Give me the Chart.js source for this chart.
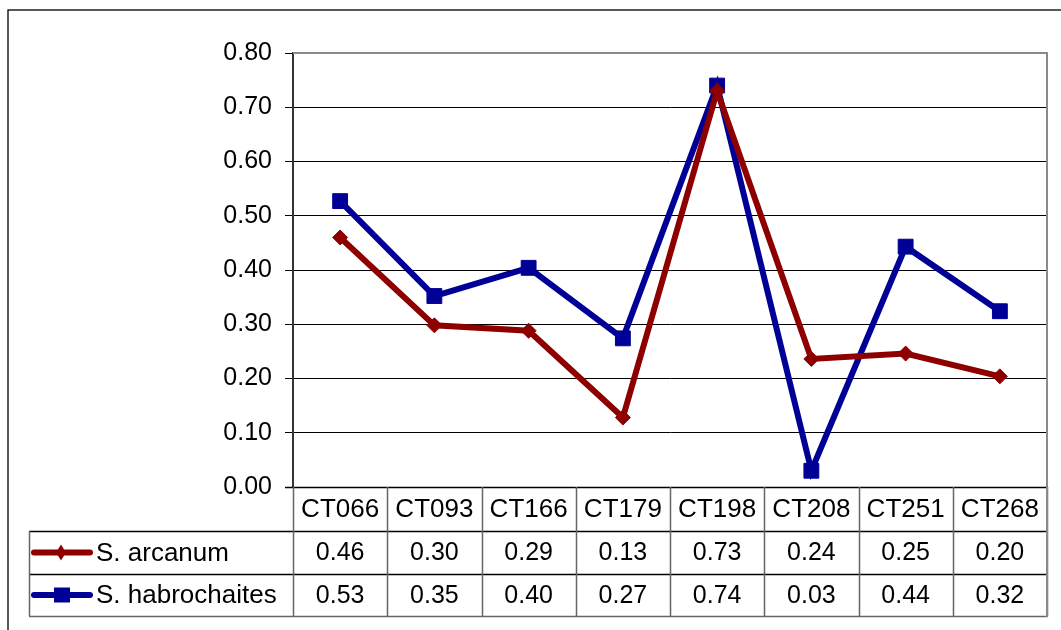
<!DOCTYPE html>
<html><head><meta charset="utf-8">
<script src="https://cdn.jsdelivr.net/npm/chart.js@4.4.1/dist/chart.umd.min.js"></script>
<style>html,body{margin:0;padding:0;background:#fff;overflow:hidden}#wrap{width:1061px;height:630px;position:relative}</style>
</head><body><div id="wrap"><canvas id="c" width="1061" height="630"></canvas></div>
<script>
const categories = ['CT066','CT093','CT166','CT179','CT198','CT208','CT251','CT268'];
const seriesNames = ['S. arcanum','S. habrochaites'];
const arcanum = [0.46, 0.298, 0.288, 0.128, 0.73, 0.236, 0.246, 0.204];
const habrochaites = [0.527, 0.352, 0.404, 0.274, 0.74, 0.03, 0.443, 0.324];
const yMin = 0, yMax = 0.8, yStep = 0.1;

const RED = '#8e0000', BLUE = '#000096';
const FONT = '"Liberation Sans", Arial, sans-serif';
const FS = 25, FS_LBL = 26;

const tablePlugin = {
  id: 'tbl',
  beforeDraw(chart) {
    const ctx = chart.ctx;
    ctx.save();
    ctx.fillStyle = '#fff';
    ctx.fillRect(0, 0, chart.width, chart.height);
    ctx.restore();
  },
  afterDraw(chart) {
    const ctx = chart.ctx;
    const a = chart.chartArea;
    const xs = chart.scales.x;
    const n = categories.length;
    const colW = (a.right - a.left) / n;
    const hdrB = a.bottom + 44, r1B = hdrB + 43, r2B = r1B + 42;
    const tblL = 29;
    ctx.save();
    // plot border top & right (grey)
    ctx.strokeStyle = '#8a8a8a';
    ctx.lineWidth = 2;
    ctx.beginPath();
    ctx.moveTo(a.left, a.top); ctx.lineTo(a.right, a.top); ctx.lineTo(a.right, a.bottom);
    ctx.stroke();
    // table horizontal lines
    ctx.strokeStyle = '#000';
    ctx.lineWidth = 1.3;
    ctx.beginPath();
    ctx.moveTo(a.left - 8, a.bottom + 0.5); ctx.lineTo(a.right, a.bottom + 0.5);
    [hdrB, r1B].forEach(y => { ctx.moveTo(tblL, y + 0.5); ctx.lineTo(a.right, y + 0.5); });
    ctx.stroke();
    ctx.strokeStyle = '#666';
    ctx.lineWidth = 1.5;
    ctx.beginPath();
    ctx.moveTo(tblL, r2B + 0.5); ctx.lineTo(a.right + 1, r2B + 0.5);
    ctx.moveTo(tblL + 0.5, hdrB); ctx.lineTo(tblL + 0.5, r2B);
    for (let i = 0; i <= n; i++) {
      const x = Math.round(xs.getPixelForValue(i) - colW / 2) + 0.5;
      ctx.moveTo(x, a.bottom); ctx.lineTo(x, r2B);
    }
    ctx.stroke();
    ctx.strokeStyle = '#8a8a8a';
    ctx.lineWidth = 2;
    ctx.beginPath();
    ctx.moveTo(a.right, a.bottom); ctx.lineTo(a.right, r2B + 1);
    ctx.stroke();
    // texts
    ctx.fillStyle = '#000';
    ctx.textAlign = 'center';
    ctx.textBaseline = 'middle';
    const rowsData = [arcanum, habrochaites];
    const rowMid = [(hdrB + r1B) / 2 + 1, (r1B + r2B) / 2 + 1];
    categories.forEach((c, i) => {
      const x = xs.getPixelForValue(i);
      ctx.font = FS_LBL + 'px ' + FONT;
      ctx.fillText(c, x, (a.bottom + hdrB) / 2 + 1);
      ctx.font = FS + 'px ' + FONT;
      rowsData.forEach((d, k) => ctx.fillText(d[i].toFixed(2), x, rowMid[k]));
    });
    // legend keys
    const ds = chart.data.datasets;
    ds.forEach((d, k) => {
      const y = rowMid[k] - 1;
      ctx.strokeStyle = d.borderColor;
      ctx.lineWidth = 6;
      ctx.lineCap = 'round';
      ctx.beginPath(); ctx.moveTo(34, y); ctx.lineTo(90, y); ctx.stroke();
      ctx.fillStyle = d.borderColor;
      ctx.beginPath();
      if (k === 0) {
        ctx.moveTo(61, y - 8); ctx.lineTo(66, y); ctx.lineTo(61, y + 8); ctx.lineTo(56, y);
        ctx.closePath();
      } else {
        ctx.rect(54, y - 7.5, 16, 15);
      }
      ctx.fill();
      ctx.fillStyle = '#000';
      ctx.textAlign = 'left';
      ctx.font = FS_LBL + 'px ' + FONT;
      ctx.fillText(d.label, 96, rowMid[k]);
    });
    // outer frame
    ctx.strokeStyle = '#000';
    ctx.lineWidth = 1.3;
    ctx.strokeRect(8, 10, 1200, 800);
    ctx.restore();
  }
};

new Chart(document.getElementById('c'), {
  type: 'line',
  data: {
    labels: categories,
    datasets: [
      { label: seriesNames[0], data: arcanum, borderColor: RED, backgroundColor: RED,
        borderWidth: 6, pointStyle: 'rectRot', pointRadius: 7.5, pointBorderWidth: 1, tension: 0 },
      { label: seriesNames[1], data: habrochaites, borderColor: BLUE, backgroundColor: BLUE,
        borderWidth: 6, pointStyle: 'rect', pointRadius: 10.5, pointBorderWidth: 1, tension: 0 }
    ]
  },
  options: {
    responsive: false,
    animation: false,
    devicePixelRatio: 1,
    layout: { padding: { left: 0, top: 53, right: 14, bottom: 143 } },
    plugins: { legend: { display: false }, tooltip: { enabled: false } },
    scales: {
      x: { type: 'category', offset: true, display: false },
      y: {
        min: yMin, max: yMax,
        ticks: { stepSize: yStep, padding: 13, color: '#000', font: { size: FS, family: FONT },
                 callback: v => Number(v).toFixed(2) },
        grid: { color: '#000', lineWidth: 1, tickLength: 8, drawTicks: true },
        border: { display: true, color: '#333', width: 2 },
        afterFit: s => { s.width = 293; }
      }
    }
  },
  plugins: [tablePlugin]
});
</script></body></html>
